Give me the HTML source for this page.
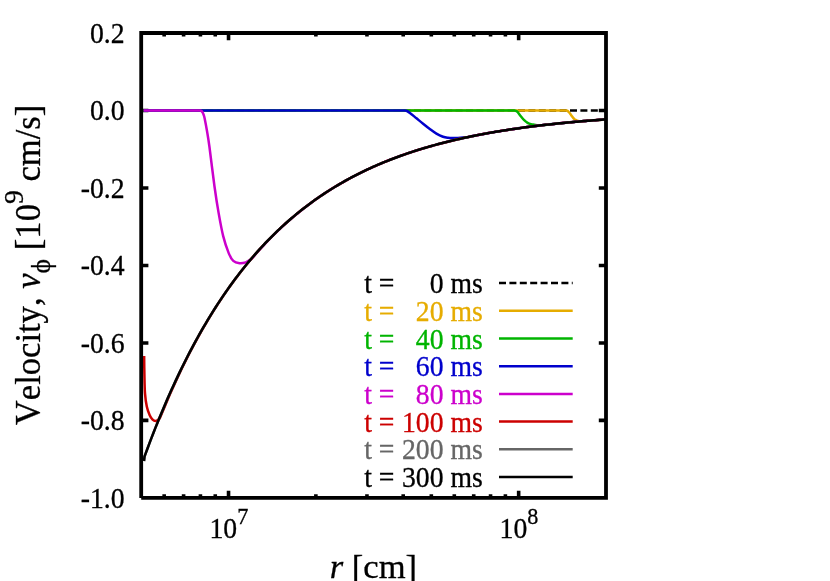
<!DOCTYPE html>
<html><head><meta charset="utf-8"><title>Velocity profile</title>
<style>
html,body{margin:0;padding:0;background:#fff;}
body{width:830px;height:581px;overflow:hidden;}
svg{display:block;font-family:"Liberation Serif",serif;}
svg{will-change:transform;}
text{stroke-width:0.3px;font-kerning:none;}

</style></head><body>
<svg width="830" height="581" viewBox="0 0 830 581">
<rect width="830" height="581" fill="#fff"/>
<g stroke="#000" stroke-width="3.6" fill="none"><path d="M164.17,497.90 v-3.60 M164.17,33.00 v3.60"/><path d="M183.60,497.90 v-3.60 M183.60,33.00 v3.60"/><path d="M200.42,497.90 v-3.60 M200.42,33.00 v3.60"/><path d="M215.26,497.90 v-3.60 M215.26,33.00 v3.60"/><path d="M228.54,497.90 v-7.20 M228.54,33.00 v7.20"/><path d="M315.87,497.90 v-3.60 M315.87,33.00 v3.60"/><path d="M366.96,497.90 v-3.60 M366.96,33.00 v3.60"/><path d="M403.21,497.90 v-3.60 M403.21,33.00 v3.60"/><path d="M431.33,497.90 v-3.60 M431.33,33.00 v3.60"/><path d="M454.30,497.90 v-3.60 M454.30,33.00 v3.60"/><path d="M473.72,497.90 v-3.60 M473.72,33.00 v3.60"/><path d="M490.55,497.90 v-3.60 M490.55,33.00 v3.60"/><path d="M505.39,497.90 v-3.60 M505.39,33.00 v3.60"/><path d="M518.66,497.90 v-7.20 M518.66,33.00 v7.20"/><path d="M141.20,110.48 h7.20 M606.00,110.48 h-7.20"/><path d="M141.20,187.97 h7.20 M606.00,187.97 h-7.20"/><path d="M141.20,265.45 h7.20 M606.00,265.45 h-7.20"/><path d="M141.20,342.93 h7.20 M606.00,342.93 h-7.20"/><path d="M141.20,420.42 h7.20 M606.00,420.42 h-7.20"/></g>
<path d="M143.60,110.50 L606.00,110.50" fill="none" stroke="#000" stroke-width="2.3" stroke-dasharray="7 3.4"/>
<path d="M143.60,110.50 L566.10,110.50 C566.33,110.57 567.02,110.60 567.50,110.90 C567.98,111.20 568.38,111.58 569.00,112.30 C569.62,113.02 570.50,114.27 571.20,115.20 C571.90,116.13 572.60,117.20 573.20,117.90 C573.80,118.60 574.30,119.03 574.80,119.40 C575.30,119.77 575.62,119.83 576.20,120.10 C576.78,120.37 577.58,120.79 578.30,121.00 C579.02,121.21 580.13,121.31 580.50,121.37 L582.50,121.20 L586.50,120.87 L590.50,120.55 L594.50,120.23 L598.50,119.93 L602.50,119.63 L606.00,119.38" fill="none" stroke="#E6AC00" stroke-width="2.5" stroke-linejoin="round"/>
<path d="M143.60,110.50 L514.10,110.50 C514.38,110.57 515.23,110.67 515.80,110.90 C516.37,111.13 516.67,111.02 517.50,111.90 C518.33,112.78 519.68,114.82 520.80,116.20 C521.92,117.58 523.07,119.08 524.20,120.20 C525.33,121.32 526.47,122.22 527.60,122.90 C528.73,123.58 529.88,124.00 531.00,124.30 C532.12,124.60 533.18,124.55 534.30,124.70 C535.42,124.85 536.58,125.09 537.70,125.20 C538.82,125.31 540.45,125.35 541.00,125.38 L543.00,125.14 L547.00,124.69 L551.00,124.24 L555.00,123.81 L559.00,123.40 L563.00,123.00 L567.00,122.60 L571.00,122.23 L575.00,121.86 L579.00,121.51 L583.00,121.16 L587.00,120.83 L591.00,120.51 L595.00,120.19 L599.00,119.89 L603.00,119.60 L606.00,119.38" fill="none" stroke="#00B400" stroke-width="2.5" stroke-linejoin="round"/>
<path d="M143.60,110.50 L404.60,110.50 C405.00,110.58 406.12,110.60 407.00,111.00 C407.88,111.40 408.32,111.68 409.90,112.90 C411.48,114.12 414.30,116.50 416.50,118.30 C418.70,120.10 420.88,121.92 423.10,123.70 C425.32,125.48 427.58,127.35 429.80,129.00 C432.02,130.65 434.20,132.32 436.40,133.60 C438.60,134.88 441.07,136.00 443.00,136.70 C444.93,137.40 446.45,137.57 448.00,137.80 C449.55,138.03 450.63,138.07 452.30,138.10 C453.97,138.13 456.22,138.08 458.00,138.00 C459.78,137.92 461.33,137.77 463.00,137.60 C464.67,137.43 467.17,137.06 468.00,136.96 L470.00,136.64 L474.00,135.82 L478.00,135.03 L482.00,134.26 L486.00,133.52 L490.00,132.80 L494.00,132.11 L498.00,131.43 L502.00,130.78 L506.00,130.14 L510.00,129.53 L514.00,128.93 L518.00,128.36 L522.00,127.80 L526.00,127.26 L530.00,126.74 L534.00,126.23 L538.00,125.74 L542.00,125.26 L546.00,124.80 L550.00,124.35 L554.00,123.92 L558.00,123.50 L562.00,123.09 L566.00,122.70 L570.00,122.32 L574.00,121.95 L578.00,121.59 L582.00,121.25 L586.00,120.91 L590.00,120.59 L594.00,120.27 L598.00,119.96 L602.00,119.67 L606.00,119.38" fill="none" stroke="#0000CC" stroke-width="2.5" stroke-linejoin="round"/>
<path d="M143.60,110.50 L199.60,110.50 C199.88,110.57 200.78,110.55 201.30,110.90 C201.82,111.25 202.30,111.92 202.70,112.60 C203.10,113.28 203.40,114.13 203.70,115.00 C204.00,115.87 203.95,115.13 204.50,117.80 C205.05,120.47 206.18,126.22 207.00,131.00 C207.82,135.78 208.15,137.25 209.40,146.50 C210.65,155.75 212.97,175.43 214.50,186.50 C216.03,197.57 217.15,204.63 218.60,212.90 C220.05,221.17 221.52,229.40 223.20,236.10 C224.88,242.80 227.02,248.97 228.70,253.10 C230.38,257.23 231.50,259.22 233.30,260.90 C235.10,262.58 237.43,262.95 239.50,263.20 C241.57,263.45 244.02,262.92 245.70,262.40 C247.38,261.88 248.95,260.48 249.60,260.10 L251.60,259.02 L255.60,254.31 L259.60,249.77 L263.60,245.37 L267.60,241.12 L271.60,237.00 L275.60,233.02 L279.60,229.16 L283.60,225.43 L287.60,221.82 L291.60,218.33 L295.60,214.94 L299.60,211.67 L303.60,208.50 L307.60,205.43 L311.60,202.45 L315.60,199.57 L319.60,196.78 L323.60,194.08 L327.60,191.47 L331.60,188.93 L335.60,186.48 L339.60,184.10 L343.60,181.80 L347.60,179.57 L351.60,177.41 L355.60,175.32 L359.60,173.29 L363.60,171.33 L367.60,169.42 L371.60,167.58 L375.60,165.80 L379.60,164.07 L383.60,162.39 L387.60,160.77 L391.60,159.20 L395.60,157.68 L399.60,156.20 L403.60,154.78 L407.60,153.39 L411.60,152.05 L415.60,150.75 L419.60,149.50 L423.60,148.28 L427.60,147.10 L431.60,145.95 L435.60,144.84 L439.60,143.77 L443.60,142.73 L447.60,141.72 L451.60,140.75 L455.60,139.80 L459.60,138.89 L463.60,138.00 L467.60,137.14 L471.60,136.31 L475.60,135.50 L479.60,134.72 L483.60,133.96 L487.60,133.23 L491.60,132.52 L495.60,131.83 L499.60,131.17 L503.60,130.52 L507.60,129.90 L511.60,129.29 L515.60,128.70 L519.60,128.13 L523.60,127.58 L527.60,127.05 L531.60,126.53 L535.60,126.03 L539.60,125.55 L543.60,125.07 L547.60,124.62 L551.60,124.18 L555.60,123.75 L559.60,123.34 L563.60,122.94 L567.60,122.55 L571.60,122.17 L575.60,121.81 L579.60,121.45 L583.60,121.11 L587.60,120.78 L591.60,120.46 L595.60,120.15 L599.60,119.85 L603.60,119.55 L606.00,119.38" fill="none" stroke="#CC00CC" stroke-width="2.5" stroke-linejoin="round"/>
<path d="M144.15,356.00 C144.19,359.05 144.26,368.08 144.40,374.30 C144.54,380.52 144.60,387.93 145.00,393.30 C145.40,398.67 146.02,402.83 146.80,406.50 C147.58,410.17 148.73,413.10 149.70,415.30 C150.67,417.50 151.62,418.73 152.60,419.70 C153.58,420.67 154.70,421.08 155.60,421.10 C156.50,421.12 157.30,420.26 158.00,419.80 C158.70,419.34 159.50,418.60 159.80,418.36 L161.80,413.52 L165.80,403.91 L169.80,394.62 L173.80,385.64 L177.80,376.95 L181.80,368.55 L185.80,360.42 L189.80,352.55 L193.80,344.94 L197.80,337.57 L201.80,330.44 L205.80,323.54 L209.80,316.85 L213.80,310.38 L217.80,304.11 L221.80,298.05 L225.80,292.17 L229.80,286.48 L233.80,280.97 L237.80,275.63 L241.80,270.46 L245.80,265.46 L249.80,260.61 L253.80,255.91 L257.80,251.37 L261.80,246.96 L265.80,242.69 L269.80,238.56 L273.80,234.55 L277.80,230.68 L281.80,226.92 L285.80,223.28 L289.80,219.75 L293.80,216.34 L297.80,213.03 L301.80,209.83 L305.80,206.72 L309.80,203.71 L313.80,200.80 L317.80,197.98 L321.80,195.24 L325.80,192.60 L329.80,190.03 L333.80,187.55 L337.80,185.14 L341.80,182.81 L345.80,180.55 L349.80,178.36 L353.80,176.24 L357.80,174.18 L361.80,172.19 L365.80,170.26 L369.80,168.40 L373.80,166.59 L377.80,164.83 L381.80,163.14 L385.80,161.49 L389.80,159.90 L393.80,158.36 L397.80,156.86 L401.80,155.41 L405.80,154.01 L409.80,152.65 L413.80,151.33 L417.80,150.06 L421.80,148.82 L425.80,147.62 L429.80,146.46 L433.80,145.34 L437.80,144.25 L441.80,143.20 L445.80,142.17 L449.80,141.18 L453.80,140.23 L457.80,139.30 L461.80,138.40 L465.80,137.52 L469.80,136.68 L473.80,135.86 L477.80,135.07 L481.80,134.30 L485.80,133.56 L489.80,132.84 L493.80,132.14 L497.80,131.46 L501.80,130.81 L505.80,130.17 L509.80,129.56 L513.80,128.96 L517.80,128.39 L521.80,127.83 L525.80,127.29 L529.80,126.76 L533.80,126.25 L537.80,125.76 L541.80,125.28 L545.80,124.82 L549.80,124.38 L553.80,123.94 L557.80,123.52 L561.80,123.11 L565.80,122.72 L569.80,122.34 L573.80,121.97 L577.80,121.61 L581.80,121.26 L585.80,120.93 L589.80,120.60 L593.80,120.29 L597.80,119.98 L601.80,119.68 L605.80,119.40 L606.00,119.38" fill="none" stroke="#CC0000" stroke-width="2.5" stroke-linejoin="round"/>
<path d="M144.00,461.00 L144.50,456.60 L145.50,453.86 L147.50,448.45 L149.50,443.13 L151.50,437.89 L153.50,432.74 L155.50,427.66 L157.50,422.67 L159.50,417.75 L161.50,412.92 L163.50,408.15 L165.50,403.47 L167.50,398.85 L169.50,394.31 L171.50,389.84 L173.50,385.44 L175.50,381.11 L177.50,376.85 L179.50,372.66 L181.50,368.53 L183.50,364.47 L185.50,360.47 L187.50,356.53 L189.50,352.66 L191.50,348.84 L193.50,345.09 L195.50,341.40 L197.50,337.76 L199.50,334.18 L201.50,330.66 L203.50,327.19 L205.50,323.78 L207.50,320.42 L209.50,317.11 L211.50,313.86 L213.50,310.66 L215.50,307.51 L217.50,304.40 L219.50,301.35 L221.50,298.35 L223.50,295.39 L225.50,292.48 L227.50,289.61 L229.50,286.79 L231.50,284.01 L233.50,281.28 L235.50,278.59 L237.50,275.94 L239.50,273.34 L241.50,270.77 L243.50,268.25 L245.50,265.77 L247.50,263.32 L249.50,260.92 L251.50,258.55 L253.50,256.22 L255.50,253.92 L257.50,251.66 L259.50,249.44 L261.50,247.25 L263.50,245.10 L265.50,242.98 L267.50,240.89 L269.50,238.84 L271.50,236.82 L273.50,234.83 L275.50,232.87 L277.50,230.94 L279.50,229.05 L281.50,227.18 L283.50,225.34 L285.50,223.53 L287.50,221.75 L289.50,220.00 L291.50,218.28 L293.50,216.58 L295.50,214.91 L297.50,213.27 L299.50,211.65 L301.50,210.05 L303.50,208.49 L305.50,206.94 L307.50,205.43 L309.50,203.93 L311.50,202.46 L313.50,201.01 L315.50,199.59 L317.50,198.18 L319.50,196.80 L321.50,195.44 L323.50,194.11 L325.50,192.79 L327.50,191.49 L329.50,190.22 L331.50,188.96 L333.50,187.73 L335.50,186.51 L337.50,185.31 L339.50,184.14 L341.50,182.98 L343.50,181.83 L345.50,180.71 L347.50,179.61 L349.50,178.52 L351.50,177.45 L353.50,176.39 L355.50,175.35 L357.50,174.33 L359.50,173.33 L361.50,172.34 L363.50,171.36 L365.50,170.41 L367.50,169.46 L369.50,168.53 L371.50,167.62 L373.50,166.72 L375.50,165.84 L377.50,164.96 L379.50,164.11 L381.50,163.26 L383.50,162.43 L385.50,161.61 L387.50,160.81 L389.50,160.02 L391.50,159.24 L393.50,158.47 L395.50,157.71 L397.50,156.97 L399.50,156.24 L401.50,155.52 L403.50,154.81 L405.50,154.11 L407.50,153.42 L409.50,152.75 L411.50,152.08 L413.50,151.43 L415.50,150.78 L417.50,150.15 L419.50,149.53 L421.50,148.91 L423.50,148.31 L425.50,147.71 L427.50,147.12 L429.50,146.55 L431.50,145.98 L433.50,145.42 L435.50,144.87 L437.50,144.33 L439.50,143.80 L441.50,143.27 L443.50,142.76 L445.50,142.25 L447.50,141.75 L449.50,141.26 L451.50,140.77 L453.50,140.30 L455.50,139.83 L457.50,139.36 L459.50,138.91 L461.50,138.46 L463.50,138.02 L465.50,137.59 L467.50,137.16 L469.50,136.74 L471.50,136.33 L473.50,135.92 L475.50,135.52 L477.50,135.13 L479.50,134.74 L481.50,134.36 L483.50,133.98 L485.50,133.61 L487.50,133.25 L489.50,132.89 L491.50,132.54 L493.50,132.19 L495.50,131.85 L497.50,131.51 L499.50,131.18 L501.50,130.86 L503.50,130.54 L505.50,130.22 L507.50,129.91 L509.50,129.60 L511.50,129.30 L513.50,129.01 L515.50,128.72 L517.50,128.43 L519.50,128.15 L521.50,127.87 L523.50,127.60 L525.50,127.33 L527.50,127.06 L529.50,126.80 L531.50,126.54 L533.50,126.29 L535.50,126.04 L537.50,125.80 L539.50,125.56 L541.50,125.32 L543.50,125.09 L545.50,124.86 L547.50,124.63 L549.50,124.41 L551.50,124.19 L553.50,123.97 L555.50,123.76 L557.50,123.55 L559.50,123.35 L561.50,123.14 L563.50,122.95 L565.50,122.75 L567.50,122.56 L569.50,122.37 L571.50,122.18 L573.50,122.00 L575.50,121.82 L577.50,121.64 L579.50,121.46 L581.50,121.29 L583.50,121.12 L585.50,120.95 L587.50,120.79 L589.50,120.63 L591.50,120.47 L593.50,120.31 L595.50,120.15 L597.50,120.00 L599.50,119.85 L601.50,119.71 L603.50,119.56 L605.50,119.42 L606.00,119.38" fill="none" stroke="#666666" stroke-width="2.5"/>
<path d="M144.00,461.00 L144.50,456.60 L145.50,453.86 L147.50,448.45 L149.50,443.13 L151.50,437.89 L153.50,432.74 L155.50,427.66 L157.50,422.67 L159.50,417.75 L161.50,412.92 L163.50,408.15 L165.50,403.47 L167.50,398.85 L169.50,394.31 L171.50,389.84 L173.50,385.44 L175.50,381.11 L177.50,376.85 L179.50,372.66 L181.50,368.53 L183.50,364.47 L185.50,360.47 L187.50,356.53 L189.50,352.66 L191.50,348.84 L193.50,345.09 L195.50,341.40 L197.50,337.76 L199.50,334.18 L201.50,330.66 L203.50,327.19 L205.50,323.78 L207.50,320.42 L209.50,317.11 L211.50,313.86 L213.50,310.66 L215.50,307.51 L217.50,304.40 L219.50,301.35 L221.50,298.35 L223.50,295.39 L225.50,292.48 L227.50,289.61 L229.50,286.79 L231.50,284.01 L233.50,281.28 L235.50,278.59 L237.50,275.94 L239.50,273.34 L241.50,270.77 L243.50,268.25 L245.50,265.77 L247.50,263.32 L249.50,260.92 L251.50,258.55 L253.50,256.22 L255.50,253.92 L257.50,251.66 L259.50,249.44 L261.50,247.25 L263.50,245.10 L265.50,242.98 L267.50,240.89 L269.50,238.84 L271.50,236.82 L273.50,234.83 L275.50,232.87 L277.50,230.94 L279.50,229.05 L281.50,227.18 L283.50,225.34 L285.50,223.53 L287.50,221.75 L289.50,220.00 L291.50,218.28 L293.50,216.58 L295.50,214.91 L297.50,213.27 L299.50,211.65 L301.50,210.05 L303.50,208.49 L305.50,206.94 L307.50,205.43 L309.50,203.93 L311.50,202.46 L313.50,201.01 L315.50,199.59 L317.50,198.18 L319.50,196.80 L321.50,195.44 L323.50,194.11 L325.50,192.79 L327.50,191.49 L329.50,190.22 L331.50,188.96 L333.50,187.73 L335.50,186.51 L337.50,185.31 L339.50,184.14 L341.50,182.98 L343.50,181.83 L345.50,180.71 L347.50,179.61 L349.50,178.52 L351.50,177.45 L353.50,176.39 L355.50,175.35 L357.50,174.33 L359.50,173.33 L361.50,172.34 L363.50,171.36 L365.50,170.41 L367.50,169.46 L369.50,168.53 L371.50,167.62 L373.50,166.72 L375.50,165.84 L377.50,164.96 L379.50,164.11 L381.50,163.26 L383.50,162.43 L385.50,161.61 L387.50,160.81 L389.50,160.02 L391.50,159.24 L393.50,158.47 L395.50,157.71 L397.50,156.97 L399.50,156.24 L401.50,155.52 L403.50,154.81 L405.50,154.11 L407.50,153.42 L409.50,152.75 L411.50,152.08 L413.50,151.43 L415.50,150.78 L417.50,150.15 L419.50,149.53 L421.50,148.91 L423.50,148.31 L425.50,147.71 L427.50,147.12 L429.50,146.55 L431.50,145.98 L433.50,145.42 L435.50,144.87 L437.50,144.33 L439.50,143.80 L441.50,143.27 L443.50,142.76 L445.50,142.25 L447.50,141.75 L449.50,141.26 L451.50,140.77 L453.50,140.30 L455.50,139.83 L457.50,139.36 L459.50,138.91 L461.50,138.46 L463.50,138.02 L465.50,137.59 L467.50,137.16 L469.50,136.74 L471.50,136.33 L473.50,135.92 L475.50,135.52 L477.50,135.13 L479.50,134.74 L481.50,134.36 L483.50,133.98 L485.50,133.61 L487.50,133.25 L489.50,132.89 L491.50,132.54 L493.50,132.19 L495.50,131.85 L497.50,131.51 L499.50,131.18 L501.50,130.86 L503.50,130.54 L505.50,130.22 L507.50,129.91 L509.50,129.60 L511.50,129.30 L513.50,129.01 L515.50,128.72 L517.50,128.43 L519.50,128.15 L521.50,127.87 L523.50,127.60 L525.50,127.33 L527.50,127.06 L529.50,126.80 L531.50,126.54 L533.50,126.29 L535.50,126.04 L537.50,125.80 L539.50,125.56 L541.50,125.32 L543.50,125.09 L545.50,124.86 L547.50,124.63 L549.50,124.41 L551.50,124.19 L553.50,123.97 L555.50,123.76 L557.50,123.55 L559.50,123.35 L561.50,123.14 L563.50,122.95 L565.50,122.75 L567.50,122.56 L569.50,122.37 L571.50,122.18 L573.50,122.00 L575.50,121.82 L577.50,121.64 L579.50,121.46 L581.50,121.29 L583.50,121.12 L585.50,120.95 L587.50,120.79 L589.50,120.63 L591.50,120.47 L593.50,120.31 L595.50,120.15 L597.50,120.00 L599.50,119.85 L601.50,119.71 L603.50,119.56 L605.50,119.42 L606.00,119.38" fill="none" stroke="#000" stroke-width="2.5"/>
<path d="M141.20,497.90 V33.00 H606.00 V497.90 H141.20" fill="none" stroke="#000" stroke-width="3.8" stroke-linejoin="miter" stroke-linecap="butt"/>
<text stroke="#000" transform="translate(124.6,42.80) scale(1,1.03)" font-size="27.7" text-anchor="end">0.2</text>
<text stroke="#000" transform="translate(124.6,120.28) scale(1,1.03)" font-size="27.7" text-anchor="end">0.0</text>
<text stroke="#000" transform="translate(124.6,197.77) scale(1,1.03)" font-size="27.7" text-anchor="end">-0.2</text>
<text stroke="#000" transform="translate(124.6,275.25) scale(1,1.03)" font-size="27.7" text-anchor="end">-0.4</text>
<text stroke="#000" transform="translate(124.6,352.73) scale(1,1.03)" font-size="27.7" text-anchor="end">-0.6</text>
<text stroke="#000" transform="translate(124.6,430.22) scale(1,1.03)" font-size="27.7" text-anchor="end">-0.8</text>
<text stroke="#000" transform="translate(124.6,507.70) scale(1,1.03)" font-size="27.7" text-anchor="end">-1.0</text>
<text stroke="#000" transform="translate(228.84,537.6) scale(1,1.03)" font-size="27.7" text-anchor="middle">10<tspan font-size="22.16" dy="-12.9">7</tspan></text>
<text stroke="#000" transform="translate(518.96,537.6) scale(1,1.03)" font-size="27.7" text-anchor="middle">10<tspan font-size="22.16" dy="-12.9">8</tspan></text>
<text stroke="#000" transform="translate(373.40,578.0)" font-size="34.6" text-anchor="middle"><tspan font-style="italic">r</tspan> [cm]</text>
<text stroke="#000" transform="translate(40.4,264.95) rotate(-90) scale(1,1.015)" font-size="34.6" text-anchor="middle">Velocity, <tspan font-style="italic">v</tspan><tspan font-size="27.68" dy="9.8">ϕ</tspan><tspan dy="-9.8"> [10</tspan><tspan font-size="27.68" dy="-17">9</tspan><tspan dy="17"> cm/s]</tspan></text>
<text transform="translate(364.2,293.20) scale(1,1.03)" font-size="27.7" fill="#000" stroke="#000">t =</text>
<text transform="translate(482.8,293.20) scale(1,1.03)" font-size="27.7" fill="#000" stroke="#000" text-anchor="end">0 ms</text>
<path d="M499,283.10 H572.7" stroke="#000" stroke-width="2.5" fill="none" stroke-dasharray="7 3.4"/>
<text transform="translate(364.2,320.90) scale(1,1.03)" font-size="27.7" fill="#E6AC00" stroke="#E6AC00">t =</text>
<text transform="translate(482.8,320.90) scale(1,1.03)" font-size="27.7" fill="#E6AC00" stroke="#E6AC00" text-anchor="end">20 ms</text>
<path d="M499,310.80 H572.7" stroke="#E6AC00" stroke-width="2.5" fill="none"/>
<text transform="translate(364.2,348.60) scale(1,1.03)" font-size="27.7" fill="#00B400" stroke="#00B400">t =</text>
<text transform="translate(482.8,348.60) scale(1,1.03)" font-size="27.7" fill="#00B400" stroke="#00B400" text-anchor="end">40 ms</text>
<path d="M499,338.50 H572.7" stroke="#00B400" stroke-width="2.5" fill="none"/>
<text transform="translate(364.2,376.30) scale(1,1.03)" font-size="27.7" fill="#0000CC" stroke="#0000CC">t =</text>
<text transform="translate(482.8,376.30) scale(1,1.03)" font-size="27.7" fill="#0000CC" stroke="#0000CC" text-anchor="end">60 ms</text>
<path d="M499,366.20 H572.7" stroke="#0000CC" stroke-width="2.5" fill="none"/>
<text transform="translate(364.2,404.00) scale(1,1.03)" font-size="27.7" fill="#CC00CC" stroke="#CC00CC">t =</text>
<text transform="translate(482.8,404.00) scale(1,1.03)" font-size="27.7" fill="#CC00CC" stroke="#CC00CC" text-anchor="end">80 ms</text>
<path d="M499,393.90 H572.7" stroke="#CC00CC" stroke-width="2.5" fill="none"/>
<text transform="translate(364.2,431.70) scale(1,1.03)" font-size="27.7" fill="#CC0000" stroke="#CC0000">t =</text>
<text transform="translate(482.8,431.70) scale(1,1.03)" font-size="27.7" fill="#CC0000" stroke="#CC0000" text-anchor="end">100 ms</text>
<path d="M499,421.60 H572.7" stroke="#CC0000" stroke-width="2.5" fill="none"/>
<text transform="translate(364.2,459.40) scale(1,1.03)" font-size="27.7" fill="#666666" stroke="#666666">t =</text>
<text transform="translate(482.8,459.40) scale(1,1.03)" font-size="27.7" fill="#666666" stroke="#666666" text-anchor="end">200 ms</text>
<path d="M499,449.30 H572.7" stroke="#666666" stroke-width="2.5" fill="none"/>
<text transform="translate(364.2,487.10) scale(1,1.03)" font-size="27.7" fill="#000" stroke="#000">t =</text>
<text transform="translate(482.8,487.10) scale(1,1.03)" font-size="27.7" fill="#000" stroke="#000" text-anchor="end">300 ms</text>
<path d="M499,477.00 H572.7" stroke="#000" stroke-width="2.5" fill="none"/>
</svg>
</body></html>
